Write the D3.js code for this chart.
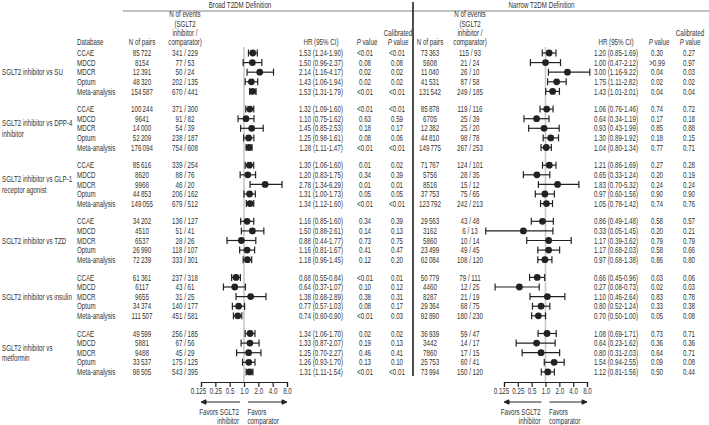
<!DOCTYPE html>
<html><head><meta charset="utf-8">
<script src="https://cdn.jsdelivr.net/npm/d3@7"></script>
<style>
body{margin:0;background:#fff;}
text{font-family:"Liberation Sans","Arial",sans-serif;font-size:9px;fill:#333;}
</style></head>
<body><svg id="c" width="709" height="425"></svg>
<script>
const groups = [["SGLT2 inhibitor vs SU"],["SGLT2 inhibitor vs DPP-4","inhibitor"],["SGLT2 inhibitor vs GLP-1","receptor agonist"],["SGLT2 inhibitor vs TZD"],["SGLT2 inhibitor vs insulin"],["SGLT2 inhibitor vs","metformin"]];
const databases = ["CCAE","MDCD","MDCR","Optum","Meta-analysis"];
const tickValues = [0.125,0.25,0.5,1,2,4,8];
const tickLabels = ["0.125","0.25","0.5","1.0","2.0","4.0","8.0"];

const broadPairs = [85722,8154,12391,48320,154587, 100244,9641,14000,52209,176094, 85616,8620,9966,44853,149055, 34202,4510,6537,26990,72239, 61361,6117,9655,34374,111507, 49599,5881,9488,33537,98505];
const broadEvS = [341,77,50,202,670, 371,91,54,238,754, 339,88,46,206,679, 136,51,28,118,333, 237,43,31,140,451, 256,67,45,175,543];
const broadEvC = [229,53,24,135,441, 300,82,39,187,608, 254,76,20,162,512, 127,41,26,107,301, 318,61,25,177,581, 185,56,29,125,395];
const broadHR = [1.53,1.50,2.14,1.43,1.53, 1.32,1.10,1.45,1.25,1.28, 1.30,1.20,2.78,1.31,1.34, 1.16,1.50,0.88,1.16,1.18, 0.68,0.64,1.38,0.77,0.74, 1.34,1.33,1.25,1.26,1.31];
const broadLo = [1.24,0.96,1.16,1.06,1.31, 1.09,0.75,0.85,0.98,1.11, 1.06,0.83,1.34,1.00,1.12, 0.85,0.88,0.44,0.81,0.96, 0.55,0.37,0.68,0.57,0.60, 1.06,0.87,0.70,0.93,1.11];
const broadHi = [1.90,2.37,4.17,1.94,1.79, 1.60,1.62,2.53,1.61,1.47, 1.60,1.75,6.29,1.73,1.60, 1.60,2.61,1.77,1.67,1.45, 0.84,1.07,2.89,1.03,0.90, 1.70,2.07,2.27,1.70,1.54];
const broadP = ["<0.01","0.08","0.02","0.02","<0.01", "<0.01","0.63","0.18","0.08","<0.01", "0.01","0.34","0.01","0.05","<0.01", "0.34","0.14","0.73","0.41","0.12", "<0.01","0.10","0.38","0.08","<0.01", "0.02","0.19","0.46","0.13","<0.01"];
const broadCal = ["<0.01","0.08","0.02","0.02","<0.01", "<0.01","0.59","0.17","0.06","<0.01", "0.02","0.39","0.01","0.05","<0.01", "0.39","0.13","0.75","0.47","0.20", "0.01","0.12","0.31","0.17","0.03", "0.02","0.13","0.41","0.10","<0.01"];

const narrowPairs = [73363,5608,11040,41531,131542, 85878,6705,12382,44810,149775, 71767,5756,8516,37753,123792, 29563,3162,5860,23499,62084, 50779,4460,8287,29364,92890, 36939,3442,7860,25753,73994];
const narrowEvS = [115,21,26,87,249, 119,25,25,98,267, 124,28,15,75,242, 43,6,10,49,108, 79,12,21,68,180, 59,14,17,60,150];
const narrowEvC = [93,24,10,58,185, 116,39,20,78,253, 101,35,12,65,213, 48,13,14,45,120, 111,25,19,75,230, 47,17,15,41,120];
const narrowHR = [1.20,1.00,3.00,1.75,1.43, 1.06,0.64,0.93,1.30,1.04, 1.21,0.65,1.83,0.97,1.05, 0.86,0.33,1.17,1.17,0.97, 0.66,0.27,1.10,0.80,0.70, 1.08,0.64,0.80,1.54,1.12];
const narrowLo = [0.85,0.47,1.16,1.11,1.01, 0.76,0.34,0.43,0.89,0.80, 0.86,0.33,0.70,0.60,0.78, 0.49,0.05,0.39,0.68,0.68, 0.45,0.08,0.46,0.52,0.50, 0.69,0.23,0.31,0.94,0.81];
const narrowHi = [1.69,2.12,9.22,2.82,2.01, 1.46,1.19,1.99,1.92,1.34, 1.69,1.24,5.32,1.56,1.42, 1.48,1.45,3.62,2.03,1.38, 0.96,0.73,2.64,1.24,1.00, 1.71,1.62,2.03,2.55,1.56];
const narrowP = ["0.30",">0.99","0.04","0.02","0.04", "0.74","0.17","0.85","0.18","0.77", "0.27","0.20","0.24","0.90","0.74", "0.58","0.20","0.79","0.58","0.86", "0.03","0.02","0.83","0.33","0.05", "0.73","0.36","0.64","0.09","0.50"];
const narrowCal = ["0.27","0.97","0.03","0.02","0.04", "0.72","0.18","0.88","0.15","0.71", "0.28","0.19","0.24","0.90","0.76", "0.57","0.21","0.79","0.66","0.80", "0.06","0.03","0.78","0.38","0.08", "0.71","0.36","0.71","0.08","0.44"];

const svg = d3.select("#c");
const SX = 0.69;
const y0 = 53, rowH = 9.6, groupP = 56.1;
const rowY = i => y0 + Math.floor(i/5)*groupP + (i%5)*rowH;
const fmtN = n => n >= 10000 ? d3.format(",")(n).replace(/,/g, "\u2009") : String(n);
const axisY = 382;

function txt(x, y, s, anchor, extra) {
  const t = svg.append("text").attr("transform", `translate(${x},${y}) scale(${SX},1)`)
    .attr("text-anchor", anchor || "start").attr("dy", "0.35em");
  if (extra) extra(t); else t.text(s);
  return t;
}
function pval(t) { t.append("tspan").attr("font-style","italic").text("P"); t.append("tspan").text(" value"); }

// group labels and databases
groups.forEach((g, gi) => {
  const cy = rowY(gi*5 + 2);
  g.forEach((line, li) => txt(2, cy + (li - (g.length-1)/2)*10.5, line));
});
d3.range(30).forEach(i => txt(77, rowY(i), databases[i%5]));

const panels = [
  {cx:[142,185,321,365,397], range:[201,287], lineX:[123,413], title:"Broad T2DM Definition",
   pairs:broadPairs, evS:broadEvS, evC:broadEvC, hr:broadHR, lo:broadLo, hi:broadHi, p:broadP, cal:broadCal},
  {cx:[430,470,616,657,689], range:[504,587], lineX:[413,709], title:"Narrow T2DM Definition",
   pairs:narrowPairs, evS:narrowEvS, evC:narrowEvC, hr:narrowHR, lo:narrowLo, hi:narrowHi, p:narrowP, cal:narrowCal}
];

// header
txt(77, 42, "Database");
panels.forEach(P => {
  const x = d3.scaleLog().base(2).domain([0.125, 8]).range(P.range);
  txt(x(1) - 4, 5, P.title, "middle");
  svg.append("line").attr("x1", P.lineX[0]).attr("x2", P.lineX[1]).attr("y1", 11).attr("y2", 11).attr("stroke", "#666").attr("stroke-width", 0.8);
  txt(P.cx[0], 42, "N of pairs", "middle");
  ["N of events","(SGLT2","inhibitor /","comparator)"].forEach((s, k) => txt(P.cx[1], 14 + k*9.4, s, "middle"));
  txt(P.cx[2], 42, "HR (95% CI)", "middle");
  txt(P.cx[3] + 2, 42, null, "middle", pval);
  txt(P.cx[4] + 1, 32.5, "Calibrated", "middle");
  txt(P.cx[4] + 1, 42, null, "middle", pval);

  // reference line
  svg.append("line").attr("x1", x(1)).attr("x2", x(1)).attr("y1", 47).attr("y2", axisY).attr("stroke", "#c8c8c8").attr("stroke-width", 1.6);

  d3.range(30).forEach(i => {
    const y = rowY(i);
    txt(P.cx[0], y, fmtN(P.pairs[i]), "middle");
    txt(P.cx[1], y, P.evS[i] + " / " + P.evC[i], "middle");
    txt(P.cx[2], y, P.hr[i].toFixed(2) + " (" + P.lo[i].toFixed(2) + "-" + P.hi[i].toFixed(2) + ")", "middle");
    txt(P.cx[3], y, P.p[i], "middle");
    txt(P.cx[4], y, P.cal[i], "middle");
    const g = svg.append("g").attr("stroke", "#222").attr("stroke-width", 1.2);
    g.append("line").attr("x1", x(P.lo[i])).attr("x2", x(P.hi[i])).attr("y1", y).attr("y2", y);
    g.append("line").attr("x1", x(P.lo[i])).attr("x2", x(P.lo[i])).attr("y1", y-3.5).attr("y2", y+3.5);
    g.append("line").attr("x1", x(P.hi[i])).attr("x2", x(P.hi[i])).attr("y1", y-3.5).attr("y2", y+3.5);
    svg.append("circle").attr("cx", x(P.hr[i])).attr("cy", y).attr("r", 3.4).attr("fill", "#222");
  });

  const ax = d3.axisBottom(x).tickValues(tickValues).tickFormat((d, k) => tickLabels[k]).tickSize(5).tickSizeOuter(5);
  const ag = svg.append("g").attr("transform", `translate(0,${axisY})`).call(ax);
  ag.selectAll("path,line").attr("stroke", "#222").attr("stroke-width", 1.2);
  ag.selectAll("text").attr("dy", null).attr("y", null)
    .attr("transform", (d, k) => `translate(${k === 0 ? -3 : 0},12) scale(${SX},1)`)
    .style("font-size", "9px").style("fill", "#333")
    .style("font-family", "'Liberation Sans',Arial,sans-serif");

  // arrows
  const ay = 402, mid = x(1);
  const mk = svg.append("g").attr("fill", "#222").attr("stroke", "#222").attr("stroke-width", 1);
  mk.append("line").attr("x1", mid-4).attr("x2", P.range[0]+4).attr("y1", ay).attr("y2", ay);
  mk.append("path").attr("d", `M${P.range[0]},${ay}l5,-2.2v4.4z`);
  mk.append("line").attr("x1", mid+4).attr("x2", P.range[1]-4).attr("y1", ay).attr("y2", ay);
  mk.append("path").attr("d", `M${P.range[1]},${ay}l-5,-2.2v4.4z`);
  txt(mid-5, 412, "Favors SGLT2", "end");
  txt(mid-5, 421, "inhibitor", "end");
  txt(mid+3.5, 412, "Favors", "start");
  txt(mid+3.5, 421, "comparator", "start");
});

// vertical divider
svg.append("line").attr("x1", 413).attr("x2", 413).attr("y1", 2).attr("y2", rowY(29)+4).attr("stroke", "#222").attr("stroke-width", 1.6);
</script></body></html>
